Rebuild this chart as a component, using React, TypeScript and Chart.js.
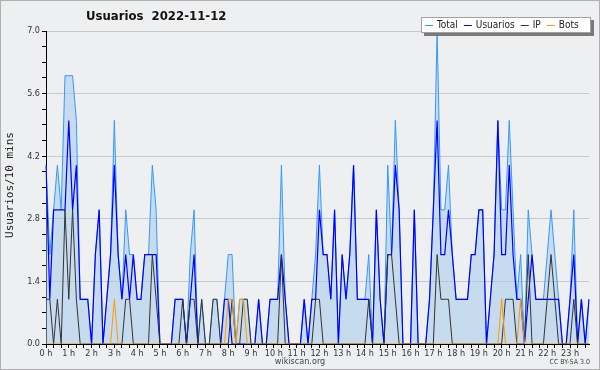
import React, { useEffect, useRef } from 'react';
import { Chart, registerables } from 'chart.js';

Chart.register(...registerables);

// 10-minute slots, 0:00 .. 23:50
const slotLabels: string[] = [];
for (let h = 0; h < 24; h++) for (let m = 0; m < 60; m += 10) slotLabels.push(`${h}:${String(m).padStart(2, '0')}`);

const hourTickLabels: string[] = ['0 h','1 h','2 h','3 h','4 h','5 h','6 h','7 h','8 h','9 h','10 h','11 h','12 h','13 h','14 h','15 h','16 h','17 h','18 h','19 h','20 h','21 h','22 h','23 h'];

const yTickLabels: string[] = ['0.0', '1.4', '2.8', '4.2', '5.6', '7.0'];

const total: number[] = [
  4,2,3,4,3,6, 6,6,5,1,1,1, 0,2,3,0,1,2, 5,2,1,3,2,2,
  1,1,2,2,4,3, 0,0,0,0,1,1, 1,0,2,3,0,1, 0,0,1,1,0,1,
  2,2,0,1,1,1, 0,0,1,0,0,1, 1,1,4,1,0,0, 0,0,1,0,1,2,
  4,2,2,1,3,0, 2,1,2,4,1,1, 1,2,0,3,1,0, 4,2,5,3,0,0,
  0,3,0,0,0,1, 3,7,3,3,4,2, 1,1,1,1,2,2, 3,3,0,1,2,5,
  3,3,5,3,1,2, 0,3,2,1,1,1, 2,3,2,1,0,0, 1,3,0,1,0,1,
];

const usuarios: number[] = [
  4,1,3,3,3,3, 5,3,4,1,1,1, 0,2,3,0,1,2, 4,2,1,2,1,2,
  1,1,2,2,2,2, 0,0,0,0,1,1, 1,0,1,2,0,0, 0,0,0,0,0,1,
  1,0,0,0,0,0, 0,0,1,0,0,1, 1,1,2,1,0,0, 0,0,1,0,1,1,
  3,2,2,1,3,0, 2,1,2,4,1,1, 1,1,0,3,1,0, 2,2,4,3,0,0,
  0,3,0,0,0,1, 3,5,2,2,3,2, 1,1,1,1,2,2, 3,3,0,1,2,5,
  2,2,4,2,1,1, 0,1,2,1,1,1, 1,1,1,1,0,0, 1,2,0,1,0,1,
];

const ip: number[] = [
  1,1,0,1,0,3, 1,3,1,0,0,0, 0,0,0,0,0,0, 0,0,0,1,1,0,
  0,0,0,0,2,1, 0,0,0,0,0,0, 1,0,1,1,0,1, 0,0,1,1,0,0,
  0,1,0,0,1,1, 0,0,0,0,0,0, 0,0,2,0,0,0, 0,0,0,0,0,1,
  1,0,0,0,0,0, 0,0,0,0,0,0, 0,1,0,0,0,0, 2,2,1,0,0,0,
  0,0,0,0,0,0, 0,2,1,1,1,0, 0,0,0,0,0,0, 0,0,0,0,0,0,
  0,1,1,1,0,0, 0,2,0,0,0,0, 1,2,1,0,0,0, 0,1,0,0,0,0,
];

const bots: number[] = [
  0,0,0,0,0,0, 0,0,0,0,0,0, 0,0,0,0,0,0, 1,0,0,0,0,0,
  0,0,0,0,0,0, 0,0,0,0,0,0, 0,0,0,0,0,0, 0,0,0,0,0,0,
  1,1,0,1,1,0, 0,0,0,0,0,0, 0,0,0,0,0,0, 0,0,0,0,0,0,
  0,0,0,0,0,0, 0,0,0,0,0,0, 0,0,0,0,0,0, 0,0,0,0,0,0,
  0,0,0,0,0,0, 0,0,0,0,0,0, 0,0,0,0,0,0, 0,0,0,0,0,0,
  1,0,0,0,0,1, 0,0,0,0,0,0, 0,0,0,0,0,0, 0,0,0,0,0,0,
];

const FONT = '"DejaVu Sans Condensed", "Liberation Sans Narrow", "DejaVu Sans", sans-serif';

const isMajor = (v: number) => Math.abs(v / 1.4 - Math.round(v / 1.4)) < 1e-6;

export default function App() {
  const ref = useRef<HTMLCanvasElement>(null);

  useEffect(() => {
    document.body.style.margin = '0';
    const canvas = ref.current!;

    const deco = {
      id: 'deco',
      beforeDraw(chart: any) {
        const { ctx, width, height } = chart;
        ctx.save();
        ctx.fillStyle = '#eeeff0';
        ctx.fillRect(0, 0, width, height);
        ctx.strokeStyle = '#b0b0b0';
        ctx.lineWidth = 1;
        ctx.strokeRect(0.5, 0.5, width - 1, height - 1);
        ctx.restore();
      },
      afterDraw(chart: any) {
        const { ctx } = chart;
        ctx.save();
        // title
        ctx.fillStyle = '#111';
        ctx.font = `bold 13px ${FONT}`;
        ctx.textAlign = 'left';
        ctx.textBaseline = 'middle';
        ctx.fillText('Usuarios  2022-11-12', 86, 17);

        // y axis title
        ctx.save();
        ctx.translate(10, 185);
        ctx.rotate(-Math.PI / 2);
        ctx.textAlign = 'center';
        ctx.font = '11px "DejaVu Sans Mono", monospace';
        ctx.fillStyle = '#222';
        ctx.fillText('Usuarios/10 mins', 0, 0);
        ctx.restore();

        // legend
        const bx = 421, by = 17, bw = 170, bh = 16;
        ctx.fillStyle = '#7a7a7a';
        ctx.fillRect(bx + 3, by + 3, bw, bh);
        ctx.fillStyle = '#ffffff';
        ctx.fillRect(bx, by, bw, bh);
        ctx.strokeStyle = '#a0a0a0';
        ctx.lineWidth = 1;
        ctx.strokeRect(bx + 0.5, by + 0.5, bw - 1, bh - 1);
        ctx.font = `10px ${FONT}`;
        ctx.textBaseline = 'middle';
        ctx.textAlign = 'left';
        let x = 425;
        const ly = by + bh / 2 + 0.5;
        const items = [...chart.data.datasets].sort((a: any, b: any) => b.order - a.order);
        for (const ds of items) {
          ctx.strokeStyle = ds.borderColor;
          ctx.lineWidth = 1;
          ctx.beginPath();
          ctx.moveTo(x, ly);
          ctx.lineTo(x + 8, ly);
          ctx.stroke();
          ctx.fillStyle = '#222';
          ctx.fillText(ds.label, x + 12, ly);
          x += 12 + ctx.measureText(ds.label).width + 6;
        }

        // footer
        ctx.fillStyle = '#444';
        ctx.font = `9px ${FONT}`;
        ctx.textAlign = 'center';
        ctx.fillText('wikiscan.org', 300, 362);
        ctx.font = `7px ${FONT}`;
        ctx.textAlign = 'right';
        ctx.fillText('CC BY-SA 3.0', 590, 362);
        ctx.restore();
      },
    };

    const chart = new Chart(canvas, {
      type: 'line',
      data: {
        labels: slotLabels,
        datasets: [
          {
            label: 'Total',
            data: total,
            borderColor: '#3399ff',
            backgroundColor: 'rgba(160,200,235,0.5)',
            fill: 'origin',
            borderWidth: 1,
            pointRadius: 0,
            tension: 0,
            order: 4,
          },
          {
            label: 'Usuarios',
            data: usuarios,
            borderColor: '#0000ff',
            borderWidth: 1.2,
            pointRadius: 0,
            fill: false,
            tension: 0,
            order: 3,
          },
          {
            label: 'IP',
            data: ip,
            borderColor: '#333333',
            borderWidth: 1,
            pointRadius: 0,
            fill: false,
            tension: 0,
            order: 2,
          },
          {
            label: 'Bots',
            data: bots,
            borderColor: '#ff9900',
            borderWidth: 1,
            pointRadius: 0,
            fill: false,
            tension: 0,
            order: 1,
          },
        ],
      },
      plugins: [deco],
      options: {
        responsive: false,
        animation: false,
        devicePixelRatio: 1,
        layout: { padding: { top: 31, right: 11, bottom: 0, left: 0 } },
        plugins: {
          legend: { display: false },
          title: { display: false },
          tooltip: { enabled: false },
        },
        scales: {
          x: {
            type: 'category',
            offset: false,
            border: { color: '#000', width: 1 },
            grid: {
              drawOnChartArea: false,
              drawTicks: true,
              tickLength: 4,
              color: (c: any) => (c.index % 2 === 0 ? '#000' : 'rgba(0,0,0,0)'),
            },
            ticks: {
              autoSkip: false,
              maxRotation: 0,
              minRotation: 0,
              padding: 0,
              color: '#333',
              font: { size: 9, family: FONT },
              callback: (_v: any, i: number) => (i % 6 === 0 ? hourTickLabels[i / 6] : ''),
            },
            afterFit: (s: any) => { s.height = 26; },
          },
          y: {
            min: 0,
            max: 7,
            border: { color: '#000', width: 1 },
            grid: {
              color: (c: any) => (c.tick && isMajor(c.tick.value) ? '#c8c8c8' : 'rgba(0,0,0,0)'),
              tickColor: '#000',
              tickLength: 4,
            },
            ticks: {
              stepSize: 0.35,
              autoSkip: false,
              padding: 2,
              color: '#333',
              font: { size: 9, family: FONT },
              callback: (v: any) => (isMajor(Number(v)) ? yTickLabels[Math.round(Number(v) / 1.4)] : ''),
            },
            afterFit: (s: any) => { s.width = 46; },
          },
        },
      },
    });

    return () => chart.destroy();
  }, []);

  return (
    <div style={{ width: 600, height: 370 }}>
      <canvas ref={ref} width={600} height={370} style={{ display: 'block' }} />
    </div>
  );
}
